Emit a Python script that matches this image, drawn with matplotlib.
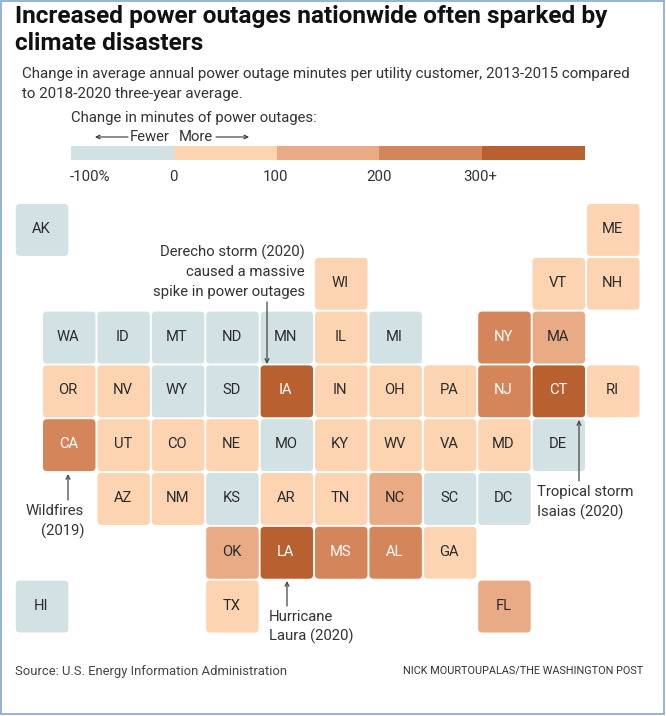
import matplotlib
matplotlib.use("Agg")
import matplotlib.pyplot as plt
from matplotlib.patches import FancyBboxPatch, Rectangle
from matplotlib.colors import BoundaryNorm, ListedColormap

plt.rcParams['font.family'] = ['Roboto', 'DejaVu Sans']

# tile grid, one string per row of the map ('.' = empty cell)
grid_rows = [
    ". . . . . . . . . . ME",
    ". . . . . WI . . . VT NH",
    "WA ID MT ND MN IL MI . NY MA .",
    "OR NV WY SD IA IN OH PA NJ CT RI",
    "CA UT CO NE MO KY WV VA MD DE .",
    ". AZ NM KS AR TN NC SC DC . .",
    ". . . OK LA MS AL GA . . .",
    ". . . TX . . . . FL . .",
]
# Alaska and Hawaii sit half a cell left of the grid
offgrid_rows = {"AK": 0, "HI": 7}

# estimated change in outage minutes, only the colour bin can be read
bin_edges = [-100, 0, 100, 200, 300, 400]
bin_colors = ["#d2e1e4", "#fdd4b2", "#e9ab85", "#d4865a", "#b96030"]
bin_labels = ["-100%", "0", "100", "200", "300+"]
minutes = {
    "AK": -50, "ME": 50, "WI": 50, "VT": 50, "NH": 50,
    "WA": -50, "ID": -50, "MT": -50, "ND": -50, "MN": -50, "IL": 50, "MI": -50, "NY": 250, "MA": 150,
    "OR": 50, "NV": 50, "WY": -50, "SD": -50, "IA": 350, "IN": 50, "OH": 50, "PA": 50, "NJ": 250, "CT": 350, "RI": 50,
    "CA": 250, "UT": 50, "CO": 50, "NE": 50, "MO": -50, "KY": 50, "WV": 50, "VA": 50, "MD": 50, "DE": -50,
    "AZ": 50, "NM": 50, "KS": -50, "AR": 50, "TN": 50, "NC": 150, "SC": -50, "DC": -50,
    "OK": 150, "LA": 350, "MS": 250, "AL": 250, "GA": 50,
    "HI": -50, "TX": 50, "FL": 150,
}

W, H = 666, 716
CELL_X, CELL_Y = 54.4, 53.8
TILE = 0.965

cmap = ListedColormap(bin_colors)
norm = BoundaryNorm(bin_edges, cmap.N)

fig = plt.figure(figsize=(W / 100, H / 100), dpi=100)
ax = fig.add_axes([0, 0, 1, 1])
ax.set_xlim(0, W)
ax.set_ylim(H, 0)
ax.axis("off")

# frame of the screenshot
ax.add_patch(Rectangle((1, 1), W - 3, H - 3, fill=False, ec="#8fabd9", lw=1.3))


def draw_tile(state, col, row):
    x = 43 + col * CELL_X
    y = 204 + row * CELL_Y
    w = CELL_X * TILE
    h = CELL_Y * TILE
    val = minutes[state]
    r = 4
    ax.add_patch(FancyBboxPatch((x + r, y + r), w - 2 * r, h - 2 * r,
                                boxstyle=f"round,pad={r},rounding_size={r}",
                                fc=cmap(norm(val)), ec="none"))
    txt = "white" if val >= 200 else "#2b2b2b"
    ax.text(x + w / 2 - 1, y + h / 2 - 1, state, ha="center", va="center", fontsize=10.6, color=txt)


for r, line in enumerate(grid_rows):
    for c, st in enumerate(line.split()):
        if st != ".":
            draw_tile(st, c, r)
for st, r in offgrid_rows.items():
    draw_tile(st, -0.5, r)

# headline and intro
ax.text(15, 16, "Increased power outages nationwide often sparked by", fontsize=17.6,
        fontweight="bold", color="#111111", va="center")
ax.text(15, 44, "climate disasters", fontsize=17.6, fontweight="bold", color="#111111", va="center")
ax.text(22, 74, "Change in average annual power outage minutes per utility customer, 2013-2015 compared",
        fontsize=10.9, color="#333333", va="center")
ax.text(22, 94, "to 2018-2020 three-year average.", fontsize=10.9, color="#333333", va="center")

# colour legend
leg_x0, leg_w = 71, 102.8
ax.text(leg_x0, 118, "Change in minutes of power outages:", fontsize=10.7, color="#333333", va="center")
ax.text(130, 137, "Fewer", fontsize=10.7, color="#333333", va="center")
ax.text(179, 137, "More", fontsize=10.7, color="#333333", va="center")
for x_from, x_to in [(128, 95), (216, 249)]:
    ax.annotate("", xy=(x_to, 137), xytext=(x_from, 137),
                arrowprops=dict(arrowstyle="->", color="#333333", lw=0.8, mutation_scale=7, shrinkA=0, shrinkB=0))
for i, col in enumerate(bin_colors):
    ax.add_patch(Rectangle((leg_x0 + i * leg_w, 146), leg_w, 14, fc=col, ec="none"))
label_x = [70, 173, 276, 379, 463]
label_ha = ["left", "center", "center", "center", "left"]
for lab, lx, ha in zip(bin_labels, label_x, label_ha):
    ax.text(lx, 177, lab, fontsize=10.8, color="#333333", va="center", ha=ha)

# callouts: text lines, alignment and arrow
notes = [
    (["Derecho storm (2020)", "caused a massive", "spike in power outages"], 305, [252, 272, 292], "right", (267, 302), (267, 364)),
    (["Wildfires", "(2019)"], 84, [511, 531], "right", (68, 500), (68, 474)),
    (["Hurricane", "Laura (2020)"], 269, [617, 636], "left", (287, 606), (287, 581)),
    (["Tropical storm", "Isaias (2020)"], 537, [492, 512], "left", (579, 481), (579, 420)),
]
for lines, tx, ys, ha, start, end in notes:
    for line, ty in zip(lines, ys):
        ax.text(tx, ty, line, ha=ha, va="center", fontsize=10.7, color="#333333")
    ax.annotate("", xy=end, xytext=start,
                arrowprops=dict(arrowstyle="->", color="#444444", lw=0.9, mutation_scale=7, shrinkA=0, shrinkB=0))

# footer
ax.text(15, 671, "Source: U.S. Energy Information Administration", fontsize=9.35, color="#444444", va="center")
ax.text(643, 671, "NICK MOURTOUPALAS/THE WASHINGTON POST", fontsize=7.8, color="#333333", va="center", ha="right")

fig.savefig("out.png", dpi=100)
